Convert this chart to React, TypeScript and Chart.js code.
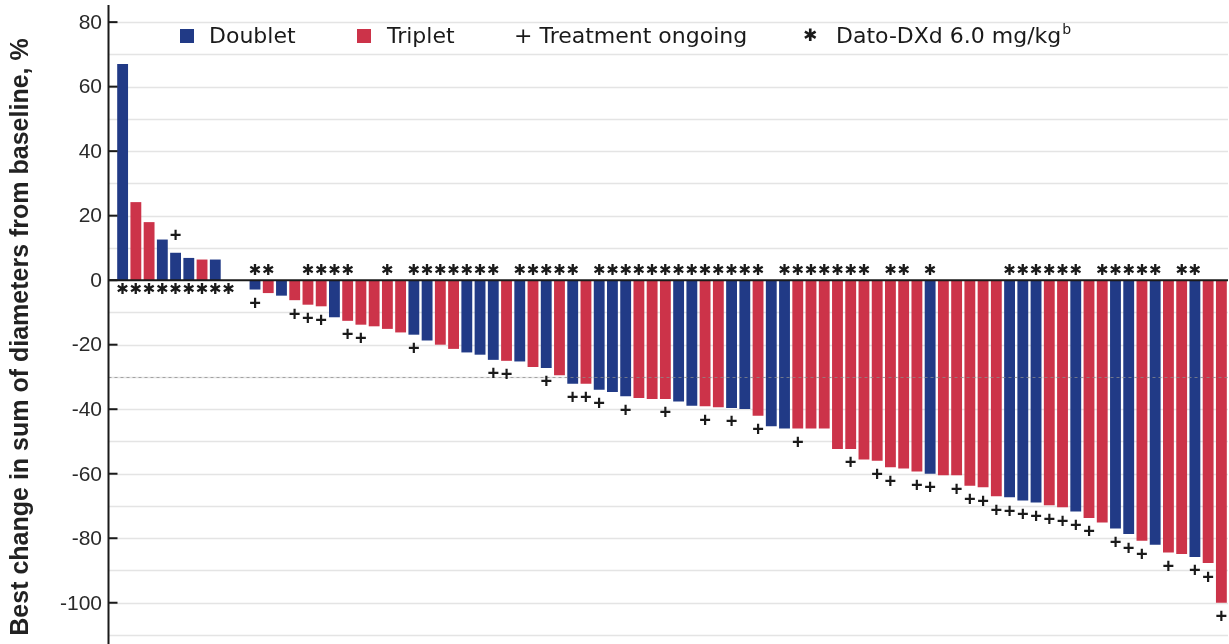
import { useEffect, useRef } from 'react';
import { Chart, registerables } from 'chart.js';

Chart.register(...registerables);

// Best change in sum of diameters from baseline (%), one bar per patient, sorted
const values: number[] = [
  67, 24.2, 18, 12.6, 8.5, 6.9, 6.4, 6.4, 0, 0,
  -2.9, -4, -4.8, -6.2, -7.6, -8.1, -11.5, -12.6, -13.8, -14.3,
  -15.1, -16.2, -16.9, -18.7, -20, -21.3, -22.4, -23.1, -24.7, -25,
  -25.2, -26.9, -27.2, -29.5, -32.1, -32.1, -34, -34.7, -36, -36.5,
  -36.8, -36.8, -37.6, -38.9, -39.1, -39.4, -39.6, -39.9, -42, -45.3,
  -46, -46, -46, -46, -52.3, -52.3, -55.6, -56, -58, -58.4,
  -59.3, -60, -60.5, -60.5, -63.7, -64.2, -67, -67.3, -68.3, -68.9,
  -69.8, -70.4, -71.7, -73.7, -75.1, -77, -78.7, -80.8, -82, -84.4,
  -84.9, -85.8, -87.7, -100,
];

// D = Doublet, T = Triplet
const arms: string[] = [
  'D', 'T', 'T', 'D', 'D', 'D', 'T', 'D', '', '',
  'D', 'T', 'D', 'T', 'T', 'T', 'D', 'T', 'T', 'T',
  'T', 'T', 'D', 'D', 'T', 'T', 'D', 'D', 'D', 'T',
  'D', 'T', 'D', 'T', 'D', 'T', 'D', 'D', 'D', 'T',
  'T', 'T', 'D', 'D', 'T', 'T', 'D', 'D', 'T', 'D',
  'D', 'T', 'T', 'T', 'T', 'T', 'T', 'T', 'T', 'T',
  'T', 'D', 'T', 'T', 'T', 'T', 'T', 'D', 'D', 'D',
  'T', 'T', 'D', 'T', 'T', 'D', 'D', 'T', 'D', 'T',
  'T', 'D', 'T', 'T',
];

// patient numbers (1-based) with treatment ongoing
const ongoingPatients: number[] = [
  5, 11, 14, 15, 16, 18, 19, 23, 29, 30, 33, 35, 36, 37, 39, 42, 45, 47, 49,
  52, 56, 58, 59, 61, 62, 64, 65, 66, 67, 68, 69, 70, 71, 72, 73, 74, 76, 77,
  78, 80, 82, 83, 84,
];

// patient numbers (1-based) who received Dato-DXd 6.0 mg/kg
const datoPatients: number[] = [
  1, 2, 3, 4, 5, 6, 7, 8, 9, 11, 12, 15, 16, 17, 18, 21, 23, 24, 25, 26, 27,
  28, 29, 31, 32, 33, 34, 35, 37, 38, 39, 40, 41, 42, 43, 44, 45, 46, 47, 48,
  49, 51, 52, 53, 54, 55, 56, 57, 59, 60, 62, 68, 69, 70, 71, 72, 73, 75, 76,
  77, 78, 79, 81, 82,
];

const yTickLabels: number[] = [80, 60, 40, 20, 0, -20, -40, -60, -80, -100];
const referenceLine = -30;
const yTitle = 'Best change in sum of diameters from baseline, %';

const patients: string[] = values.map((_, i) => String(i + 1));

const BLUE = '#213a86';
const RED = '#cc3349';
const INK = '#1a1a1a';
const SANS = '"Liberation Sans", Arial, sans-serif';

export default function App() {
  const canvasRef = useRef<HTMLCanvasElement | null>(null);

  useEffect(() => {
    const canvas = canvasRef.current;
    if (!canvas) return;

    const overlay = {
      id: 'overlay',
      beforeDatasetsDraw(chart: any) {
        const { ctx, chartArea, scales } = chart;
        const y = scales.y;
        const axisX = chartArea.left - 7.5;
        ctx.save();
        ctx.strokeStyle = '#e4e4e4';
        ctx.lineWidth = 1.5;
        y.ticks.forEach((t: any) => {
          if (t.value === 0 || t.value > 80) return;
          const py = Math.round(y.getPixelForValue(t.value)) + 0.5;
          ctx.beginPath();
          ctx.moveTo(axisX, py);
          ctx.lineTo(chartArea.right, py);
          ctx.stroke();
        });
        ctx.restore();
      },
      afterDatasetsDraw(chart: any) {
        const { ctx, chartArea, scales, height } = chart;
        const y = scales.y;
        const axisX = chartArea.left - 7.5;
        const y0 = y.getPixelForValue(0);
        ctx.save();

        // reference line at -30%
        const pr = Math.round(y.getPixelForValue(referenceLine)) + 0.5;
        ctx.strokeStyle = 'rgba(140,140,140,0.75)';
        ctx.lineWidth = 1;
        ctx.setLineDash([3, 3]);
        ctx.beginPath();
        ctx.moveTo(axisX, pr);
        ctx.lineTo(chartArea.right, pr);
        ctx.stroke();
        ctx.setLineDash([]);

        // zero line
        ctx.strokeStyle = INK;
        ctx.lineWidth = 2;
        ctx.beginPath();
        ctx.moveTo(axisX, y0);
        ctx.lineTo(chartArea.right, y0);
        ctx.stroke();

        // y axis line
        ctx.beginPath();
        ctx.moveTo(axisX, chartArea.top - 1);
        ctx.lineTo(axisX, height);
        ctx.stroke();

        // inward tick marks and tick labels
        ctx.fillStyle = '#2a2a2a';
        ctx.font = `21px ${SANS}`;
        ctx.textAlign = 'right';
        ctx.textBaseline = 'middle';
        yTickLabels.forEach((v) => {
          const py = y.getPixelForValue(v);
          ctx.beginPath();
          ctx.moveTo(axisX, py);
          ctx.lineTo(axisX + 9, py);
          ctx.stroke();
          ctx.fillText(String(v), 102, py + 1);
        });

        // y axis title
        ctx.save();
        ctx.translate(21, 337);
        ctx.rotate(-Math.PI / 2);
        ctx.textAlign = 'center';
        ctx.textBaseline = 'middle';
        ctx.fillStyle = '#222';
        ctx.font = `bold 25px ${SANS}`;
        ctx.fillText(yTitle, 0, 0);
        ctx.restore();

        // markers
        const meta = chart.getDatasetMeta(0);
        ctx.fillStyle = INK;
        ctx.textAlign = 'center';
        ctx.textBaseline = 'middle';
        datoPatients.forEach((p) => {
          const el = meta.data[p - 1];
          if (!el) return;
          const v = values[p - 1];
          ctx.font = '15px "DejaVu Sans"';
          ctx.fillText('\u2731', el.x, v < 0 ? y0 - 9 : y0 + 10);
        });
        ongoingPatients.forEach((p) => {
          const el = meta.data[p - 1];
          if (!el) return;
          const v = values[p - 1];
          ctx.font = `bold 20px ${SANS}`;
          ctx.fillText('+', el.x, v > 0 ? el.y - 16 : el.y + 15);
        });

        // legend
        ctx.textAlign = 'left';
        ctx.textBaseline = 'alphabetic';
        const base = 43;
        ctx.fillStyle = BLUE;
        ctx.fillRect(180, 29, 14, 14);
        ctx.fillStyle = RED;
        ctx.fillRect(357, 29, 14, 14);
        ctx.fillStyle = INK;
        ctx.font = '22px "DejaVu Sans"';
        ctx.fillText('Doublet', 209, base);
        ctx.fillText('Triplet', 387, base);
        ctx.fillText('+ Treatment ongoing', 514, base);
        ctx.font = '17px "DejaVu Sans"';
        ctx.fillText('\u2731', 803, base - 2);
        ctx.font = '22px "DejaVu Sans"';
        const label = 'Dato-DXd 6.0 mg/kg';
        ctx.fillText(label, 836, base);
        const w = ctx.measureText(label).width;
        ctx.font = '14px "DejaVu Sans"';
        ctx.fillText('b', 836 + w + 1, base - 9);

        ctx.restore();
      },
    };

    const chart = new Chart(canvas, {
      type: 'bar',
      data: {
        labels: patients,
        datasets: [
          {
            label: 'Best change',
            data: values,
            backgroundColor: arms.map((a) => (a === 'D' ? BLUE : RED)),
            borderWidth: 0,
            categoryPercentage: 1,
            barPercentage: 0.82,
          },
        ],
      },
      options: {
        animation: false,
        responsive: false,
        devicePixelRatio: 1,
        layout: { padding: { top: 6, bottom: 9, left: 0, right: 1 } },
        plugins: {
          legend: { display: false },
          tooltip: { enabled: false },
        },
        scales: {
          x: { display: false },
          y: {
            min: -110,
            max: 85,
            afterFit: (scale: any) => {
              scale.width = 116;
            },
            border: { display: false },
            grid: { display: false, drawTicks: false },
            ticks: { display: false, stepSize: 10, includeBounds: false },
            title: { display: false },
          },
        },
      },
      plugins: [overlay],
    });

    return () => chart.destroy();
  }, []);

  return (
    <div style={{ position: 'fixed', left: 0, top: 0, width: 1229, height: 644, background: '#fff' }}>
      <canvas ref={canvasRef} width={1229} height={644} />
    </div>
  );
}
